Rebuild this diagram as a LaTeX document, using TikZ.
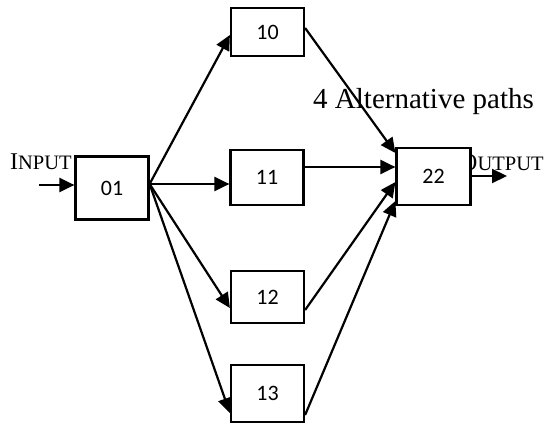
\documentclass[tikz,border=0pt]{standalone}
\usepackage{fontspec}
\setmainfont{Liberation Serif}
\newfontfamily\boxfont{Carlito}
\usetikzlibrary{arrows.meta,calc}
\tikzset{
  blk/.style={draw=black, fill=white, line width=2.2pt, inner sep=0pt,
    minimum width=73pt, font=\boxfont\fontsize{22}{25}\selectfont},
  conn/.style={line width=2.2pt, -{Triangle[length=15pt,width=14pt]}},
  lbl/.style={anchor=base west, inner sep=0pt}
}
\newcommand{\capA}[1]{{\fontsize{24}{28}\selectfont #1}}
\newcommand{\capB}[1]{{\fontsize{20.5}{24}\selectfont #1}}
\begin{document}
\begin{tikzpicture}[x=1pt,y=-1pt]
\useasboundingbox (0,0) rectangle (545,425);
% labels
\node[lbl] (tin) at (10,169) {\capA{I}\capB{NPUT}};
\node[lbl] (tout) at (460,170) {\capA{O}\capB{UTPUT}};
\node[lbl, font=\fontsize{29}{34}\selectfont] (talt) at (313,108) {4 Alternative paths};
% boxes
\node[blk, minimum height=63pt] (b01) at (112,188) {01};
\node[blk, minimum height=48pt] (b10) at (267.5,32) {10};
\node[blk, minimum height=55pt] (b11) at (267,177.5) {11};
\node[blk, minimum height=52pt] (b12) at (267.5,297) {12};
\node[blk, minimum height=57pt] (b13) at (267.5,393.5) {13};
\node[blk, minimum width=74pt, minimum height=57pt] (b22) at (433.5,176.5) {22};
% free ends
\coordinate (inS) at (39,185);
\coordinate (outE) at (507,176);
\coordinate (s01) at ($(b01.east)+(0,-4)$);
% connectors
\draw[conn] (inS) -- ($(b01.west)+(0,-3)$);
\draw[conn] (s01) -- ($(b10.west)+(0,3)$);
\draw[conn] (s01) -- ($(b11.west)+(0,6.5)$);
\draw[conn] (s01) -- ($(b12.west)+(0,11)$);
\draw[conn] (s01) -- ($(b13.west)+(0,19.5)$);
\draw[conn] ($(b10.east)+(0,-4)$) -- ($(b22.west)+(0,-23.5)$);
\draw[conn] ($(b11.east)+(0,-10.5)$) -- ($(b22.west)+(0,-9.5)$);
\draw[conn] ($(b12.east)+(0,13)$) -- ($(b22.west)+(0,5.5)$);
\draw[conn] ($(b13.east)+(0,21.5)$) -- ($(b22.west)+(0,24.5)$);
\draw[conn] (b22.east |- outE) -- (outE);
\end{tikzpicture}
\end{document}
